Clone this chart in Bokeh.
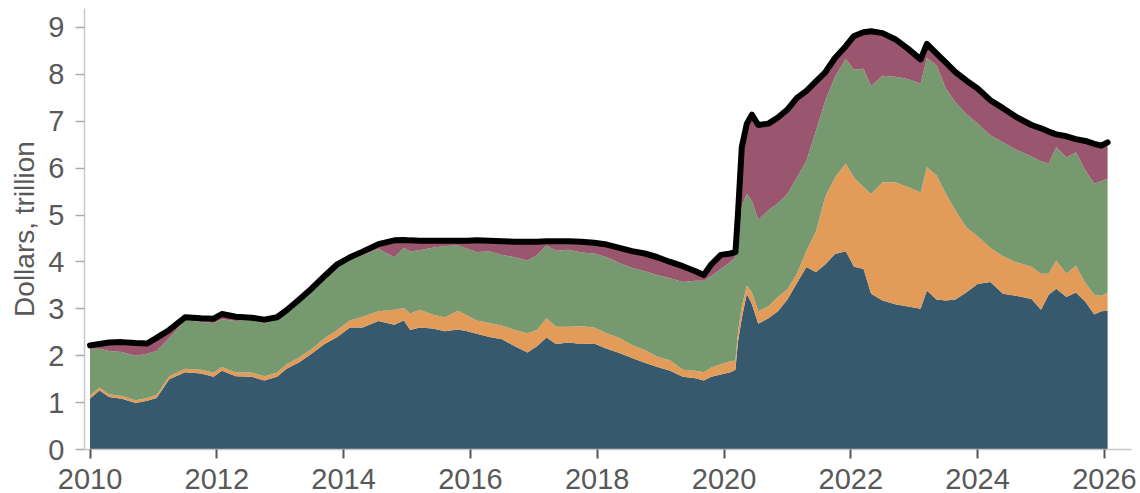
import numpy as np
from bokeh.plotting import figure
from bokeh.models import ColumnDataSource, FixedTicker, Range1d
from bokeh.embed import file_html
from bokeh.resources import INLINE

# decimal years
dates = [2010.00, 2010.15, 2010.30, 2010.50, 2010.72, 2010.90, 2011.05, 2011.25, 2011.50, 2011.75,
         2011.95, 2012.08, 2012.30, 2012.55, 2012.75, 2012.95, 2013.10, 2013.30, 2013.50, 2013.70,
         2013.90, 2014.10, 2014.30, 2014.55, 2014.80, 2014.95, 2015.05, 2015.20, 2015.40, 2015.60,
         2015.80, 2015.95, 2016.10, 2016.30, 2016.50, 2016.70, 2016.90, 2017.05, 2017.20, 2017.35,
         2017.55, 2017.75, 2017.95, 2018.15, 2018.35, 2018.55, 2018.75, 2018.95, 2019.15, 2019.35,
         2019.55, 2019.68, 2019.80, 2019.95, 2020.10, 2020.18, 2020.22, 2020.28, 2020.36, 2020.44,
         2020.54, 2020.70, 2020.85, 2021.00, 2021.15, 2021.30, 2021.45, 2021.60, 2021.75, 2021.92,
         2022.05, 2022.20, 2022.32, 2022.50, 2022.70, 2022.90, 2023.10, 2023.20, 2023.35, 2023.50,
         2023.65, 2023.82, 2024.00, 2024.20, 2024.40, 2024.60, 2024.85, 2025.00, 2025.12, 2025.24,
         2025.40, 2025.55, 2025.70, 2025.84, 2025.95, 2026.05]

# dollars, trillion
reserves = [1.09, 1.26, 1.12, 1.08, 0.99, 1.04, 1.10, 1.50, 1.65, 1.62,
            1.55, 1.68, 1.56, 1.55, 1.47, 1.55, 1.72, 1.86, 2.05, 2.25,
            2.40, 2.60, 2.60, 2.74, 2.66, 2.75, 2.55, 2.60, 2.58, 2.52,
            2.56, 2.52, 2.47, 2.40, 2.35, 2.20, 2.07, 2.20, 2.39, 2.25,
            2.28, 2.25, 2.26, 2.15, 2.06, 1.95, 1.85, 1.76, 1.68, 1.55,
            1.52, 1.47, 1.55, 1.60, 1.65, 1.70, 2.30, 2.80, 3.32, 3.10,
            2.68, 2.80, 2.95, 3.20, 3.55, 3.89, 3.78, 3.95, 4.17, 4.23,
            3.90, 3.85, 3.32, 3.18, 3.10, 3.05, 3.00, 3.39, 3.20, 3.18,
            3.20, 3.35, 3.53, 3.57, 3.32, 3.28, 3.21, 2.98, 3.30, 3.43,
            3.25, 3.35, 3.15, 2.88, 2.95, 2.96]

reverse_repo = [0.06, 0.06, 0.06, 0.06, 0.06, 0.06, 0.06, 0.06, 0.07, 0.08,
                0.09, 0.08, 0.08, 0.09, 0.09, 0.09, 0.10, 0.10, 0.10, 0.12,
                0.15, 0.15, 0.23, 0.21, 0.32, 0.27, 0.35, 0.38, 0.30, 0.30,
                0.40, 0.34, 0.28, 0.30, 0.29, 0.35, 0.41, 0.35, 0.41, 0.37,
                0.34, 0.38, 0.34, 0.33, 0.32, 0.28, 0.27, 0.22, 0.22, 0.15,
                0.16, 0.18, 0.20, 0.22, 0.23, 0.20, 0.20, 0.25, 0.18, 0.25,
                0.27, 0.25, 0.30, 0.22, 0.20, 0.35, 0.87, 1.45, 1.63, 1.87,
                1.90, 1.75, 2.13, 2.52, 2.60, 2.55, 2.48, 2.63, 2.65, 2.27,
                1.90, 1.39, 1.02, 0.73, 0.80, 0.72, 0.69, 0.77, 0.45, 0.60,
                0.50, 0.57, 0.40, 0.42, 0.33, 0.39]

currency = [1.00, 0.83, 0.92, 0.94, 0.95, 0.94, 0.94, 0.82, 1.04, 1.02,
            1.06, 1.02, 1.10, 1.12, 1.14, 1.14, 1.12, 1.20, 1.24, 1.28,
            1.34, 1.30, 1.32, 1.33, 1.12, 1.28, 1.32, 1.27, 1.42, 1.52,
            1.39, 1.42, 1.46, 1.52, 1.51, 1.55, 1.55, 1.60, 1.55, 1.62,
            1.64, 1.57, 1.58, 1.62, 1.60, 1.64, 1.68, 1.74, 1.75, 1.87,
            1.92, 1.95, 1.95, 2.03, 2.12, 2.20, 2.10, 2.15, 1.95, 1.95,
            1.95, 2.05, 2.00, 2.03, 2.05, 1.92, 2.15, 2.05, 2.15, 2.23,
            2.30, 2.52, 2.30, 2.27, 2.25, 2.30, 2.32, 2.33, 2.35, 2.25,
            2.30, 2.42, 2.40, 2.40, 2.43, 2.40, 2.35, 2.40, 2.35, 2.42,
            2.48, 2.42, 2.40, 2.37, 2.44, 2.43]

other = [0.07, 0.10, 0.18, 0.21, 0.27, 0.22, 0.28, 0.17, 0.06, 0.08,
         0.09, 0.11, 0.09, 0.05, 0.07, 0.04, 0.03, 0.04, 0.05, 0.05,
         0.06, 0.05, 0.07, 0.10, 0.36, 0.17, 0.24, 0.20, 0.15, 0.11,
         0.10, 0.17, 0.25, 0.23, 0.29, 0.33, 0.40, 0.28, 0.09, 0.20,
         0.18, 0.23, 0.23, 0.27, 0.32, 0.36, 0.38, 0.38, 0.35, 0.34,
         0.20, 0.12, 0.25, 0.30, 0.18, 0.11, 0.43, 1.25, 1.50, 1.84,
         2.02, 1.85, 1.83, 1.80, 1.70, 1.49, 1.05, 0.60, 0.40, 0.27,
         0.72, 0.78, 1.17, 0.91, 0.80, 0.65, 0.52, 0.30, 0.25, 0.55,
         0.65, 0.71, 0.75, 0.75, 0.73, 0.70, 0.67, 0.70, 0.68, 0.27,
         0.45, 0.28, 0.63, 0.85, 0.76, 0.77]

year_ticks = [2010, 2012, 2014, 2016, 2018, 2020, 2022, 2024, 2026]
value_ticks = [0, 1, 2, 3, 4, 5, 6, 7, 8, 9]

colors = ["#36596e", "#e39b59", "#779970", "#9a566f"]
text_color = "#595959"
font = "Liberation Sans"

total = (np.array(reserves) + np.array(reverse_repo) + np.array(currency) + np.array(other))

source = ColumnDataSource(dict(t=dates, reserves=reserves, rrp=reverse_repo,
                               currency=currency, other=other, total=total))

p = figure(width=1140, height=493, output_backend="svg", toolbar_location=None,
           x_range=Range1d(2009.913, 2026.427), y_range=Range1d(0, 9.405),
           min_border_left=84, min_border_right=9, min_border_top=8, min_border_bottom=44)
p.outline_line_color = None
p.xgrid.grid_line_color = None
p.ygrid.grid_line_color = None
p.background_fill_color = "white"
p.border_fill_color = "white"

p.varea_stack(stackers=["reserves", "rrp", "currency", "other"], x="t",
              color=colors, source=source)
p.line("t", "total", source=source, line_color="black", line_width=6,
       line_join="round", line_cap="round")

p.xaxis.ticker = FixedTicker(ticks=year_ticks)
p.yaxis.ticker = FixedTicker(ticks=value_ticks)
p.xaxis.minor_tick_line_color = None
p.yaxis.minor_tick_line_color = None

for ax in (p.xaxis[0], p.yaxis[0]):
    ax.axis_line_color = "#c8c8c8"
    ax.axis_line_width = 1.5
    ax.major_tick_in = 0
    ax.major_label_text_font = font
    ax.major_label_text_font_size = "29px"
    ax.major_label_text_color = text_color

p.xaxis.major_tick_out = 9
p.xaxis.major_tick_line_color = "#555555"
p.xaxis.major_tick_line_width = 2
p.xaxis.major_label_standoff = 10

p.yaxis.major_tick_out = 9
p.yaxis.major_tick_line_color = "#aaaaaa"
p.yaxis.major_tick_line_width = 1.5
p.yaxis.major_label_standoff = 11

p.yaxis.axis_label = "Dollars, trillion"
p.yaxis.axis_label_text_font = font
p.yaxis.axis_label_text_font_size = "28px"
p.yaxis.axis_label_text_font_style = "normal"
p.yaxis.axis_label_text_color = text_color
p.yaxis.axis_label_standoff = 5

open("out.html", "w").write(file_html(p, INLINE))
